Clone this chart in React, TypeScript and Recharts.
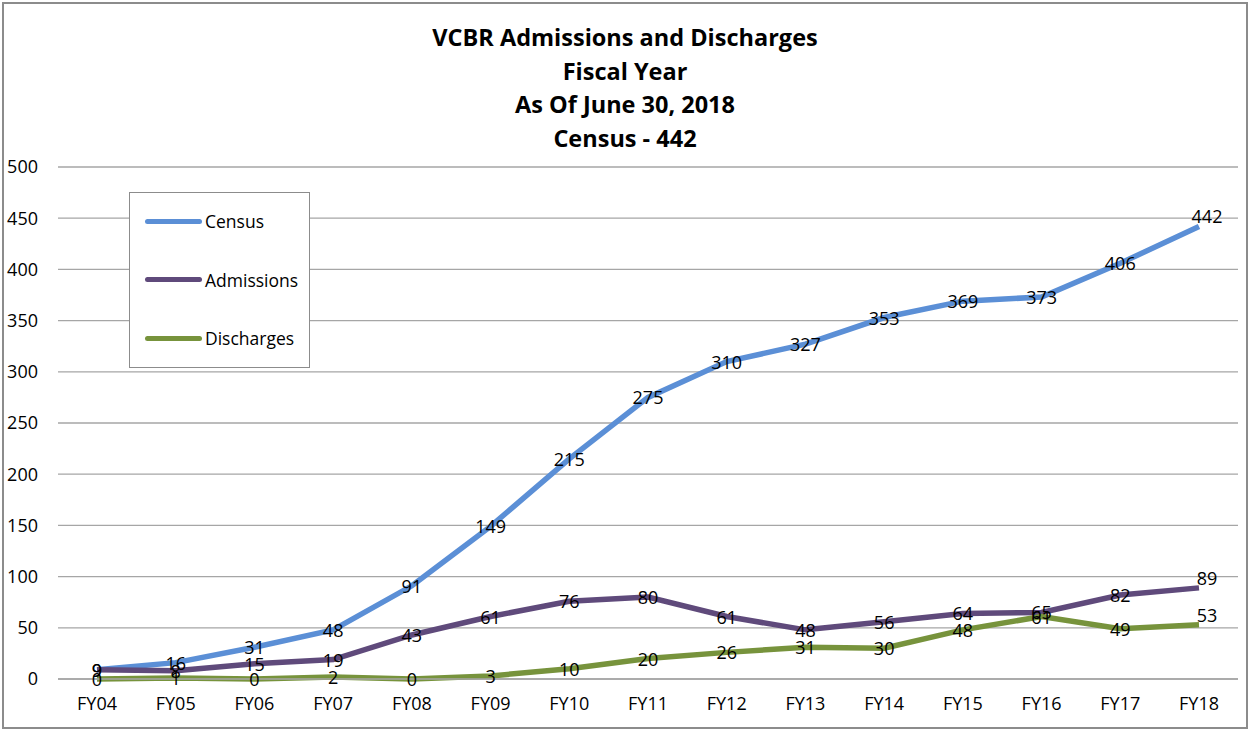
import { LineChart, Line, XAxis, YAxis, CartesianGrid, LabelList } from "recharts";

const years = ["FY04", "FY05", "FY06", "FY07", "FY08", "FY09", "FY10", "FY11", "FY12", "FY13", "FY14", "FY15", "FY16", "FY17", "FY18"];
const census = [9, 16, 31, 48, 91, 149, 215, 275, 310, 327, 353, 369, 373, 406, 442];
const admissions = [9, 8, 15, 19, 43, 61, 76, 80, 61, 48, 56, 64, 65, 82, 89];
const discharges = [0, 1, 0, 2, 0, 3, 10, 20, 26, 31, 30, 48, 61, 49, 53];
const yTicks = [0, 50, 100, 150, 200, 250, 300, 350, 400, 450, 500];
const titleLines = ["VCBR Admissions and Discharges", "Fiscal Year", "As Of June 30, 2018", "Census - 442"];

const series = [
  { key: "census", name: "Census", color: "#5B8FD6" },
  { key: "admissions", name: "Admissions", color: "#5F4A7B" },
  { key: "discharges", name: "Discharges", color: "#77933C" },
];

const data = years.map((y, i) => ({
  year: y,
  census: census[i],
  admissions: admissions[i],
  discharges: discharges[i],
}));

const FONT = "'Open Sans', 'Noto Sans', sans-serif";

const renderLabel = (props: any) => {
  const { x, y, value, index } = props;
  // last point labels sit a little up and right, as in the original
  const last = index === years.length - 1;
  return (
    <text
      x={x + (last ? 8 : 0)}
      y={y + (last ? -10 : 0)}
      textAnchor="middle"
      dominantBaseline="central"
      fontSize={18}
      fill="#000"
      fontFamily={FONT}
    >
      {value}
    </text>
  );
};

export default function App() {
  return (
    <div style={{ position: "absolute", left: 0, top: 0, width: 1250, height: 730, background: "#fff", fontFamily: FONT }}>
      <div style={{ position: "absolute", left: 2, top: 2, width: 1242, height: 723, border: "2px solid #8c8c8c" }} />
      <div style={{ position: "absolute", left: 0, top: 21, width: 1250, textAlign: "center", fontWeight: 700, fontSize: 23.5, lineHeight: "33.5px", color: "#000" }}>
        {titleLines.map((t) => (
          <div key={t}>{t}</div>
        ))}
      </div>
      <div style={{ position: "absolute", left: 0, top: 0 }}>
        <LineChart width={1250} height={730} data={data} margin={{ top: 167, right: 12, bottom: 0, left: 0 }}>
          <CartesianGrid vertical={false} stroke="#a6a6a6" strokeWidth={1.3} />
          <XAxis
            dataKey="year"
            height={51}
            padding={{ left: 39, right: 39 }}
            tickLine={false}
            stroke="#a6a6a6"
            strokeWidth={1.5}
            tickMargin={12}
            tick={{ fill: "#000", fontSize: 18, fontFamily: FONT }}
          />
          <YAxis
            width={58}
            domain={[0, 500]}
            ticks={yTicks}
            axisLine={false}
            tickLine={false}
            tickMargin={14}
            tick={{ fill: "#000", fontSize: 18, fontFamily: FONT }}
          />
          {series.map((s) => (
            <Line
              key={s.key}
              dataKey={s.key}
              name={s.name}
              stroke={s.color}
              strokeWidth={5.5}
              dot={false}
              activeDot={false}
              isAnimationActive={false}
            >
              <LabelList dataKey={s.key} content={renderLabel} />
            </Line>
          ))}
        </LineChart>
      </div>
      <div style={{ position: "absolute", left: 129, top: 192, width: 181, height: 176, border: "1.5px solid #8c8c8c", background: "#fff", boxSizing: "border-box" }}>
        {series.map((s, i) => (
          <div key={s.key} style={{ position: "absolute", left: 15, top: 16 + i * 58.5, display: "flex", alignItems: "center", fontSize: 17.5, color: "#000" }}>
            <span style={{ display: "inline-block", width: 57, height: 5, borderRadius: 3, background: s.color, marginRight: 3 }} />
            <span>{s.name}</span>
          </div>
        ))}
      </div>
    </div>
  );
}
